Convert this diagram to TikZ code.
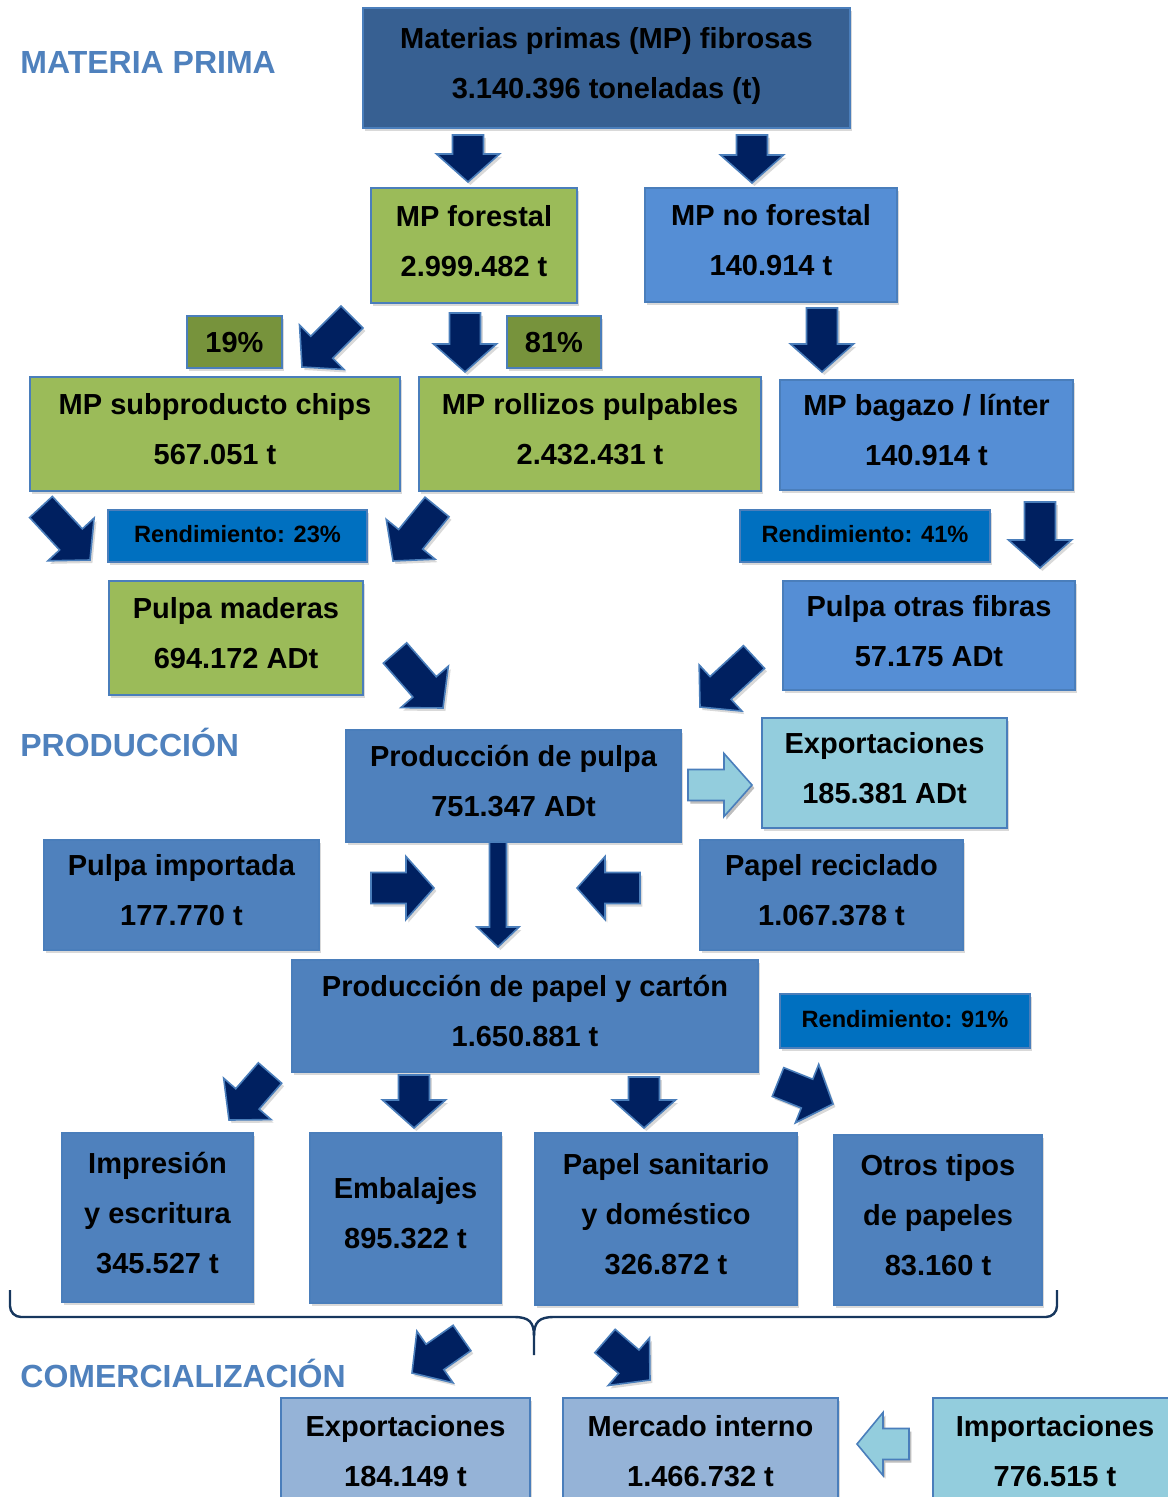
\documentclass[tikz,border=0pt]{standalone}
\usepackage{fontspec}
\setmainfont{Liberation Sans}
\usetikzlibrary{positioning,calc,shadows}

\definecolor{azulosc}{HTML}{376092}
\definecolor{verde}{HTML}{9BBB59}
\definecolor{verdeosc}{HTML}{77933C}
\definecolor{azulmed}{HTML}{558ED5}
\definecolor{azulrend}{HTML}{0070C0}
\definecolor{azul}{HTML}{4F81BD}
\definecolor{celeste}{HTML}{93CDDD}
\definecolor{lavanda}{HTML}{95B3D7}
\definecolor{marino}{HTML}{002060}
\definecolor{borde}{HTML}{4A7EBB}
\definecolor{llave}{HTML}{17375E}

\tikzset{
  arrshaft/.store in=\fsw, arrhead/.store in=\fhw, arrtip/.store in=\fhl,
  arrshaft=7.75pt, arrhead=15.75pt, arrtip=14pt,
  corners/.style args={#1/#2/#3/#4}{at={({(#1+#3)/2},{(#2+#4)/2})},
    minimum width={(#3-#1)*.5pt},minimum height={(#4-#2)*.5pt}}}

% block arrow from coordinate #2 (tail) to coordinate #3 (tip)
\newcommand\flecha[3][]{%
  \filldraw[bigarrow,#1] ($(#2)!\fsw!90:(#3)$)
    -- ($($(#3)!\fhl!(#2)$)!\fsw!90:(#3)$)
    -- ($($(#3)!\fhl!(#2)$)!\fhw!90:(#3)$)
    -- (#3)
    -- ($($(#3)!\fhl!(#2)$)!\fhw!-90:(#3)$)
    -- ($($(#3)!\fhl!(#2)$)!\fsw!-90:(#3)$)
    -- ($(#2)!\fsw!-90:(#3)$) -- cycle;}

\begin{document}
\begin{tikzpicture}[x=0.5pt,y=-0.5pt,
  box/.style={draw=borde,line width=.75pt,inner sep=0pt,align=center,
    font=\fontsize{14.5}{25}\selectfont\bfseries,
    drop shadow={shadow xshift=1.2pt,shadow yshift=-1.5pt,opacity=.3},
    execute at end node={\rule[-5pt]{0pt}{5pt}}},
  tag/.style={box,execute at end node={},text height=15.4pt},
  rend/.style={tag,fill=azulrend,text height=11.5pt,font=\fontsize{11.8}{14}\selectfont\bfseries},
  titulo/.style={anchor=west,inner sep=0pt,text=azul,font=\fontsize{16}{19}\selectfont\bfseries},
  bigarrow/.style={fill=marino,draw=borde,line width=.8pt,line join=miter,
    drop shadow={shadow xshift=1.2pt,shadow yshift=-1.5pt,opacity=.3}},
  lightarrow/.style={bigarrow,fill=celeste}]
  \useasboundingbox (0,0) rectangle (1167,1497);

  % materia prima
  \node (tit_mp) [titulo] at (20,62) {MATERIA PRIMA};
  \node (mp) [box,fill=azulosc,corners=363/8/850/128]
    {Materias primas (MP) fibrosas\\3.140.396 toneladas (t)};
  \node (mp_forestal) [box,fill=verde,corners=371/188/577/303] {MP forestal\\2.999.482 t};
  \node (mp_noforestal) [box,fill=azulmed,corners=645/188/897/302] {MP no forestal\\140.914 t};
  \node (pct_19) [tag,fill=verdeosc,corners=187/316/282/368] {19\%};
  \node (pct_81) [tag,fill=verdeosc,corners=507/316/601/368] {81\%};
  \node (mp_chips) [box,fill=verde,corners=30/377/400/491] {MP subproducto chips\\567.051 t};
  \node (mp_rollizos) [box,fill=verde,corners=419/377/761/491] {MP rollizos pulpables\\2.432.431 t};
  \node (mp_bagazo) [box,fill=azulmed,corners=780/380/1073/490] {MP bagazo / línter\\140.914 t};
  \node (rend_23) [rend,corners=108/510/367/562] {Rendimiento: 23\%};
  \node (rend_41) [rend,corners=740/510/990/562] {Rendimiento: 41\%};
  \node (pulpa_maderas) [box,fill=verde,corners=109/581/363/695] {Pulpa maderas\\694.172 ADt};
  \node (pulpa_otras) [box,fill=azulmed,corners=783/581/1075/690] {Pulpa otras fibras\\57.175 ADt};

  % produccion
  \node (tit_prod) [titulo] at (20,742) {PRODUCCIÓN};
  \node (prod_pulpa) [box,fill=azul,corners=346/730/681/842] {Producción de pulpa\\751.347 ADt};
  \node (export_pulpa) [box,fill=celeste,corners=762/718/1007/828] {Exportaciones\\185.381 ADt};
  \node (pulpa_import) [box,fill=azul,corners=44/840/319/950] {Pulpa importada\\177.770 t};
  \node (papel_recic) [box,fill=azul,corners=700/840/963/950] {Papel reciclado\\1.067.378 t};
  \node (prod_papel) [box,fill=azul,corners=292/960/758/1072] {Producción de papel y cartón\\1.650.881 t};
  \node (rend_91) [rend,corners=780/994/1030/1048] {Rendimiento: 91\%};
  \node (impresion) [box,fill=azul,corners=62/1133/253/1302] {Impresión\\y escritura\\345.527 t};
  \node (embalajes) [box,fill=azul,corners=310/1133/501/1303] {Embalajes\\895.322 t};
  \node (sanitario) [box,fill=azul,corners=535/1133/797/1305] {Papel sanitario\\y doméstico\\326.872 t};
  \node (otros) [box,fill=azul,corners=834/1135/1042/1305] {Otros tipos\\de papeles\\83.160 t};

  % comercializacion
  \node (tit_com) [titulo] at (20,1373) {COMERCIALIZACIÓN};
  \node (export_papel) [box,fill=lavanda,corners=281/1398/530/1514] {Exportaciones\\184.149 t};
  \node (mercado) [box,fill=lavanda,corners=563/1398/838/1514] {Mercado interno\\1.466.732 t};
  \node (import_papel) [box,fill=celeste,corners=933/1398/1177/1514] {Importaciones\\776.515 t};

  % brace
  \coordinate (llave_izq) at (10,1290);
  \coordinate (llave_der) at (1057,1290);
  \coordinate (llave_pico) at (534,1355);
  \draw[llave,line width=1.2pt] (llave_izq) -- ++(0,16) to[out=-90,in=180] (21,1317) -- (514,1317)
    .. controls (529,1317) and (534,1322) .. (534,1336) -- (llave_pico);
  \draw[llave,line width=1.2pt] (llave_der) -- ++(0,16) to[out=-90,in=0] (1046,1317) -- (554,1317)
    .. controls (539,1317) and (534,1322) .. (534,1336);

  % arrows: name / tail / tip
  \foreach \f/\xa/\ya/\xb/\yb in {
      f1/468/135/468/182, f2/752/135/752/183, f3/465/313/465/372,
      f4/352/317/302/367, f5/822/308/822/372, f6/41/507/90/560,
      f7/437/507/393/561, f8/1040/502/1040/568, f9/395/653/443/708,
      f10/754/657/700/707, f13/371/888/434/888, f14/640/888/577/888,
      f15/270/1073/229/1120, f16/414/1075/414/1128, f17/644/1077/644/1128,
      f18/778/1082/833/1104, f19/462/1338/412/1373, f20/605/1341/650/1380}{
    \coordinate (\f a) at (\xa,\ya);
    \coordinate (\f b) at (\xb,\yb);
    \flecha{\f a}{\f b}
  }
  \coordinate (f11a) at (688,785);
  \coordinate (f11b) at (752,785);
  \flecha[lightarrow]{f11a}{f11b}
  \coordinate (f21a) at (909,1444);
  \coordinate (f21b) at (857,1444);
  \flecha[lightarrow,arrtip=13pt]{f21a}{f21b}
  \coordinate (f12a) at (498,842);
  \coordinate (f12b) at (498,947);
  \flecha[arrshaft=4.25pt,arrhead=10.5pt,arrtip=10pt]{f12a}{f12b}
\end{tikzpicture}
\end{document}
